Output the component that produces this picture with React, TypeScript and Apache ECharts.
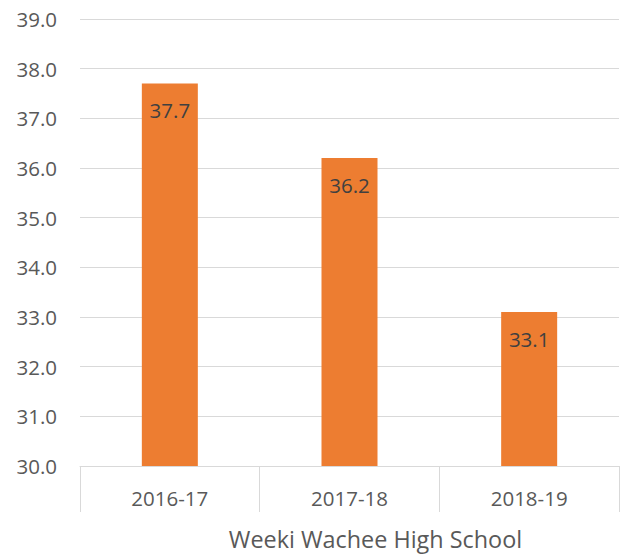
import React, { useEffect, useRef } from "react";
import * as echarts from "echarts";

const categories = ["2016-17", "2017-18", "2018-19"];
const values = [37.7, 36.2, 33.1];
const axisTitle = "Weeki Wachee High School";
const yMin = 30;
const yMax = 39;
const yInterval = 1;

export default function App() {
  const ref = useRef<HTMLDivElement>(null);
  useEffect(() => {
    if (!ref.current) return;
    const chart = echarts.init(ref.current, null, { renderer: "svg" });
    const font = "'Open Sans', sans-serif";
    chart.setOption({
      animation: false,
      grid: { left: 80, right: 12, top: 19, bottom: 90, containLabel: false },
      xAxis: {
        type: "category",
        data: categories,
        boundaryGap: true,
        axisLine: { show: true, lineStyle: { color: "#d9d9d9", width: 1 } },
        axisTick: { show: true, length: 46, lineStyle: { color: "#d9d9d9", width: 1 } },
        axisLabel: { color: "#595959", fontSize: 20.5, fontFamily: font, margin: 21 },
        name: axisTitle,
        nameLocation: "middle",
        nameGap: 61,
        nameTextStyle: { color: "#595959", fontSize: 23.4, fontFamily: font, padding: [0, 0, 0, 52] },
      },
      yAxis: {
        type: "value",
        min: yMin,
        max: yMax,
        interval: yInterval,
        axisLine: { show: false },
        axisTick: { show: false },
        splitLine: { lineStyle: { color: "#d9d9d9", width: 1 } },
        axisLabel: {
          color: "#595959",
          fontSize: 20.5,
          fontFamily: font,
          margin: 23,
          formatter: (v: number) => v.toFixed(1),
        },
      },
      series: [
        {
          type: "bar",
          data: values,
          barWidth: 56,
          itemStyle: { color: "#ED7D31" },
          label: {
            show: true,
            position: "insideTop",
            distance: 16,
            color: "#404040",
            fontSize: 20.5,
            fontFamily: font,
            formatter: (p: any) => Number(p.value).toFixed(1),
          },
        },
      ],
    });
    return () => chart.dispose();
  }, []);
  return <div ref={ref} style={{ width: 631, height: 556, position: "absolute", left: 0, top: 0 }} />;
}
